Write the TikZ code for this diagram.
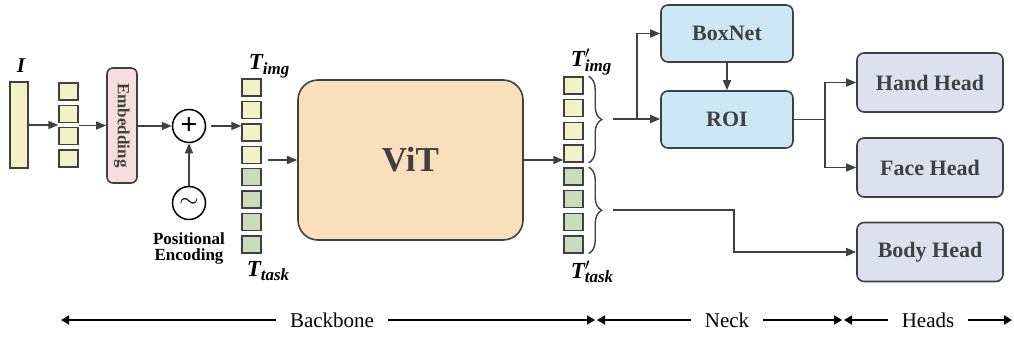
\documentclass[tikz,border=0pt]{standalone}
\usepackage{fontspec}
\setmainfont{Liberation Serif}
\usetikzlibrary{arrows.meta,decorations.pathreplacing,calc}
\definecolor{ln}{HTML}{404040}
\definecolor{yel}{HTML}{F2F2C6}
\definecolor{grn}{HTML}{CADDBA}
\definecolor{pnk}{HTML}{F6DEDE}
\definecolor{pch}{HTML}{F9E0BC}
\definecolor{blu}{HTML}{CDE8F5}
\definecolor{lav}{HTML}{DDE0EF}
\newcommand{\fsz}[1]{\fontsize{#1}{#1}\selectfont}
\newcommand{\Tsub}[1]{{\bfseries\itshape T\raisebox{-0.45ex}{\fsz{17}#1}}}
\newcommand{\Tpsub}[1]{{\bfseries\itshape T\rlap{\raisebox{0.7ex}{\fsz{17}$\prime$}}\raisebox{-0.45ex}{\fsz{17}#1}}}
\begin{document}
\begin{tikzpicture}[x=1pt,y=-1pt,
  sq/.style={draw=ln,line width=1.4pt,minimum width=19pt,minimum height=17pt,inner sep=0pt},
  ysq/.style={sq,fill=yel},
  gsq/.style={sq,fill=grn},
  box/.style={draw=ln,line width=1.6pt,rounded corners=7pt,text=ln,inner sep=0pt,font=\fsz{22}\bfseries},
  headbox/.style={box,fill=lav,minimum width=146pt,minimum height=59pt},
  neckbox/.style={box,fill=blu,minimum width=132pt,minimum height=57pt},
  circ/.style={draw=black,circle,line width=1.5pt,minimum size=33pt,inner sep=0pt},
  conn/.style={draw=ln,line width=1.6pt,-{Triangle[length=10pt,width=8pt]}},
  plain/.style={draw=ln,line width=1.6pt},
  brc/.style={draw=ln,line width=1.4pt,decorate,decoration={brace,amplitude=13pt}},
  dim/.style={draw=black,line width=1.8pt,-{Triangle[length=8pt,width=9pt]}},
  lbl/.style={font=\fsz{21},inner xsep=14pt,inner ysep=0pt}
]
\useasboundingbox (0,0) rectangle (1014,338);

% input image
\node[font=\fsz{21}\bfseries\itshape] (Ilab) at (21,66) {I};
\node[ysq,minimum width=18pt,minimum height=86pt] (I) at (19,125) {};

% patches
\foreach \i in {0,...,3}
  \node[ysq] (a\i) at (68.5,{91.5+22.3*\i}) {};

% embedding
\node[box,fill=pnk,rounded corners=6pt,minimum width=30pt,minimum height=115pt,
  label={[rotate=-90,font=\fsz{17}\bfseries,text=ln]center:Embedding}] (emb) at (122,125.5) {};

% plus and positional encoding
\node[circ] (plus) at (189,126) {\fsz{30}\bfseries +};
\node[circ] (tilde) at (189,203) {\fsz{28}$\sim$};
\node[font=\fsz{17}\bfseries,align=center,inner sep=0pt] (pe) at (189,248)
  {Positional\\[-1pt]Encoding};

% token column before ViT
\foreach \i in {0,...,3}
  \node[ysq] (b\i) at (251.5,{87.5+22.4*\i}) {};
\foreach \i in {4,...,7}
  \node[gsq] (b\i) at (251.5,{87.5+22.4*\i}) {};
\node[font=\fsz{23}] (timg) at (269,66) {\Tsub{img}};
\node[font=\fsz{23}] (ttask) at (268,271) {\Tsub{task}};

% ViT
\node[box,fill=pch,rounded corners=20pt,minimum width=225pt,minimum height=160pt,font=\fsz{35}\bfseries] (vit) at (410.5,160) {ViT};

% token column after ViT
\foreach \i in {0,...,3}
  \node[ysq] (c\i) at (573.5,{85.5+22.7*\i}) {};
\foreach \i in {4,...,7}
  \node[gsq] (c\i) at (573.5,{85.5+22.7*\i}) {};
\node[font=\fsz{23}] (timgp) at (591,62) {\Tpsub{img}};
\node[font=\fsz{23}] (ttaskp) at (592,272) {\Tpsub{task}};

% braces
\draw[brc] ($(c0.north east)+(5,0)$) -- ($(c3.south east)+(5,0)$);
\draw[brc] ($(c4.north east)+(5,0)$) -- ($(c7.south east)+(5,0)$);
\coordinate (ut) at (613,119);
\coordinate (lt) at (613,210);

% neck
\node[neckbox] (boxnet) at (727,33.5) {BoxNet};
\node[neckbox] (roi) at (727,119.5) {ROI};

% heads
\node[headbox] (hand) at (930,82.5) {Hand Head};
\node[headbox] (face) at (930,167.5) {Face Head};
\node[headbox] (body) at (930,252) {Body Head};

% connectors
\draw[conn] (I.east) -- (I.east -| a1.west);
\draw[conn] (emb.west -| a1.east) -- (emb.west);
\draw[conn] (emb.east |- plus.west) -- (plus.west);
\draw[conn,shorten <=5pt] (plus.east) -- (plus.east -| b2.west);
\draw[conn] (tilde.north) -- (plus.south);
\draw[conn,shorten <=6pt] (vit.west -| b3.east) -- (vit.west);
\draw[conn] (vit.east) -- (vit.east -| c3.west);

\coordinate (ub) at (637,119);
\draw[conn] (ut) -- (ut -| roi.west);
\draw[conn] (ub) |- (boxnet.west);
\draw[conn] (boxnet.south) -- (roi.north);
\coordinate (hb) at (825,119.5);
\draw[plain] (roi.east) -- (hb);
\draw[conn] (hb) |- (hand.west);
\draw[conn] (hb) |- (face.west);
\coordinate (lb) at (734,210);
\draw[conn] (lt) -- (lb) |- (body.west);

% bottom dimension arrows
\node[lbl] (bb) at (332,320) {Backbone};
\node[lbl] (nk) at (727,320) {Neck};
\node[lbl] (hd) at (928,320) {Heads};
\coordinate (d0) at (61,320);
\coordinate (d1a) at (595,320);
\coordinate (d1b) at (597,320);
\coordinate (d2a) at (842,320);
\coordinate (d2b) at (844,320);
\coordinate (d3) at (1012,320);
\draw[dim] (bb.west) -- (d0);
\draw[dim] (bb.east) -- (d1a);
\draw[dim] (nk.west) -- (d1b);
\draw[dim] (nk.east) -- (d2a);
\draw[dim] (hd.west) -- (d2b);
\draw[dim] (hd.east) -- (d3);
\end{tikzpicture}
\end{document}
